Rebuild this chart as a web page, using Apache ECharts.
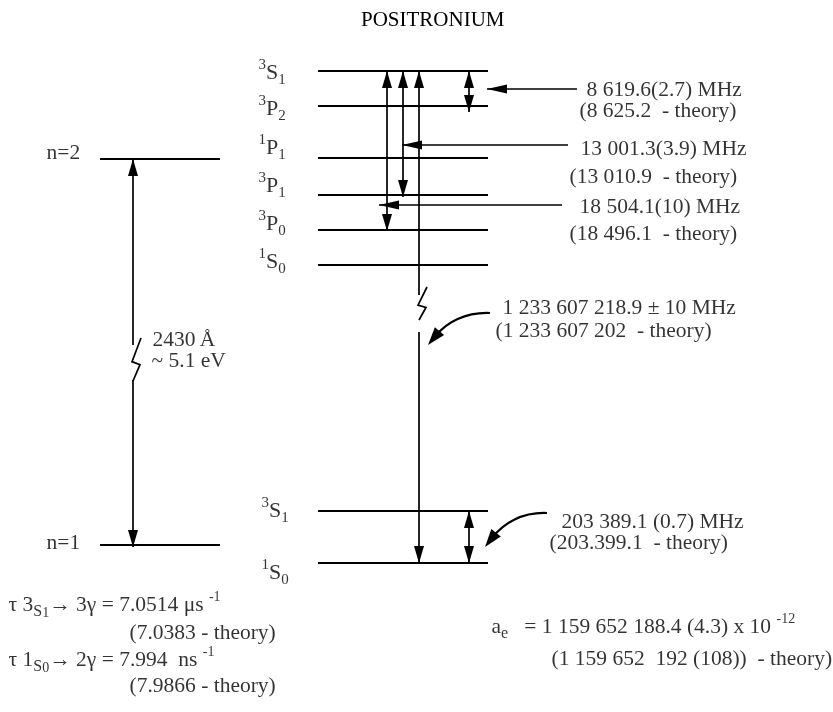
<!DOCTYPE html>
<html>
<head>
<meta charset="utf-8">
<title>Positronium</title>
<script src="https://cdn.jsdelivr.net/npm/echarts@6/dist/echarts.min.js"></script>
<style>
  html, body { margin: 0; padding: 0; background: #fff; }
  #chart { width: 833px; height: 712px; }
</style>
</head>
<body>
<div id="chart"></div>
<script>
// schematic diagram, axis units run 0..833 across and 0..712 top to bottom (not to scale)
const titleText = 'POSITRONIUM'

// principal levels (left)
const nLevelNames = ['n=2', 'n=1']
const nLevelY = [159, 545]

// n=2 fine structure (right, top) and n=1 hyperfine pair (right, bottom)
const upperLevelNames = ['3S1', '3P2', '1P1', '3P1', '3P0', '1S0']
const upperLevelY = [71, 106, 158, 195, 230, 265]
const lowerLevelNames = ['3S1', '1S0']
const lowerLevelY = [511, 563]

// measured intervals and theory
const fsMeasured = ['8 619.6(2.7) MHz', '13 001.3(3.9) MHz', '18 504.1(10) MHz']
const fsTheory = ['(8 625.2  - theory)', '(13 010.9  - theory)', '(18 496.1  - theory)']
const grMeasured = '1 233 607 218.9 \u00b1 10 MHz'
const grTheory = '(1 233 607 202  - theory)'
const hfsMeasured = '203 389.1 (0.7) MHz'
const hfsTheory = '(203.399.1  - theory)'
const lymanText = ['2430\u2009\u00c5', '~ 5.1 eV']
const decayLines = [
  '{t|\u03c4 3}{sub|S}{sub2|1}{t|\u2192 3\u03b3 = 7.0514 \u03bcs }{sup|-1}',
  '(7.0383 - theory)',
  '{t|\u03c4 1}{sub|S}{sub2|0}{t|\u2192 2\u03b3 = 7.994  ns }{sup|-1}',
  '(7.9866 - theory)'
]
const aeLines = [
  '{t|a}{sub|e}{t|   = 1 159 652 188.4 (4.3) x 10 }{sup|-12}',
  '(1 159 652  192 (108))  - theory)'
]

const serif = "'Liberation Serif', 'Times New Roman', serif"
const ink = '#000'
const fs = 21.5

// ---- layout ----
const nSpan = [100, 220]
const fsSpan = [318, 488]
const leftArrowX = 133
const fsArrowX = [469, 403, 387]     // arrows to 3P2, 3P1, 3P0
const fsArrowTip = [112, 197, 231]
const groundX = 419
const hfsX = 469
const pointerY = [89, 145, 205]
const pointerTip = [487, 402, 379]
const pointerTail = [577, 568, 562]

// levels
const levelData = []
nLevelY.forEach(y => levelData.push([nSpan[0], nSpan[1], y]))
upperLevelY.forEach(y => levelData.push([fsSpan[0], fsSpan[1], y]))
lowerLevelY.forEach(y => levelData.push([fsSpan[0], fsSpan[1], y]))

// straight arrow segments: x1, y1, x2, y2, head at start, head at end, head type
const segData = [
  [leftArrowX, nLevelY[0], leftArrowX, 345, 1, 0, 0],
  [leftArrowX, 380, leftArrowX, nLevelY[1] + 2, 0, 1, 0],
  [groundX, upperLevelY[0], groundX, 295, 1, 0, 0],
  [groundX, 332, groundX, lowerLevelY[1], 0, 1, 0],
  [hfsX, lowerLevelY[0], hfsX, lowerLevelY[1], 1, 1, 0]
]
fsArrowX.forEach((x, i) => segData.push([x, upperLevelY[0], x, fsArrowTip[i], 1, 1, 0]))
pointerY.forEach((y, i) => segData.push([pointerTip[i], y, pointerTail[i], y, 1, 0, 1]))

// zigzag breaks: x, top, bottom
const breakData = [[leftArrowX, 338, 381], [groundX, 287, 320]]

// curved pointers: start x, start y, tip x, tip y
const curveData = [[490, 313, 428, 345], [547, 513, 485, 547]]

// texts: x (left edge), y (middle), rich text
const lvl = n => '{lsup|' + n[0] + '}{lvl|' + n[1] + '}{lsub|' + n[2] + '}'
const upperLabelY = [73, 109, 148, 186, 224, 262]
const lowerLabelY = [511, 573]
const textData = []
nLevelNames.forEach((n, i) => textData.push({ value: [46, [153, 543][i]], name: n }))
upperLevelNames.forEach((n, i) => textData.push({ value: [258, upperLabelY[i]], name: lvl(n) }))
lowerLevelNames.forEach((n, i) => textData.push({ value: [261, lowerLabelY[i]], name: lvl(n) }))
textData.push({ value: [152, 340], name: lymanText[0] })
textData.push({ value: [151, 361], name: lymanText[1] })
const fsTextX = [[586, 579], [580, 569], [579, 569]]
const fsTextY = [[90, 111], [149, 177], [207, 234]]
fsMeasured.forEach((t, i) => {
  textData.push({ value: [fsTextX[i][0], fsTextY[i][0]], name: t })
  textData.push({ value: [fsTextX[i][1], fsTextY[i][1]], name: fsTheory[i] })
})
textData.push({ value: [502, 308], name: grMeasured })
textData.push({ value: [495, 331], name: grTheory })
textData.push({ value: [561, 522], name: hfsMeasured })
textData.push({ value: [549, 543], name: hfsTheory })
const decayY = [605, 633, 660, 686]
const decayX = [8, 129, 8, 129]
decayLines.forEach((t, i) => textData.push({ value: [decayX[i], decayY[i]], name: t }))
textData.push({ value: [491, 627], name: aeLines[0] })
textData.push({ value: [551, 659], name: aeLines[1] })

const rich = {
  lvl: { fontFamily: serif, fontSize: 22, lineHeight: 30, verticalAlign: 'middle', color: ink },
  lsup: { fontFamily: serif, fontSize: 15, lineHeight: 15, verticalAlign: 'top', color: ink },
  lsub: { fontFamily: serif, fontSize: 15, lineHeight: 15, verticalAlign: 'bottom', color: ink },
  t: { fontFamily: serif, fontSize: fs, lineHeight: 30, verticalAlign: 'middle', color: ink },
  sup: { fontFamily: serif, fontSize: 14, lineHeight: 13, verticalAlign: 'top', color: ink },
  sub: { fontFamily: serif, fontSize: 16, lineHeight: 22, verticalAlign: 'bottom', color: ink },
  sub2: { fontFamily: serif, fontSize: 14, lineHeight: 15, verticalAlign: 'bottom', color: ink }
}

function head (tip, from, len, width) {
  const dx = tip[0] - from[0]
  const dy = tip[1] - from[1]
  const d = Math.sqrt(dx * dx + dy * dy) || 1
  const ux = dx / d
  const uy = dy / d
  const bx = tip[0] - ux * len
  const by = tip[1] - uy * len
  return {
    type: 'polygon',
    shape: { points: [tip, [bx - uy * width / 2, by + ux * width / 2], [bx + uy * width / 2, by - ux * width / 2]] },
    style: { fill: ink }
  }
}

const chart = echarts.init(document.getElementById('chart'))
chart.setOption({
  animation: false,
  backgroundColor: '#fff',
  title: {
    text: titleText,
    left: 356,
    top: 5,
    textStyle: { fontFamily: serif, fontSize: 21, fontWeight: 'normal', color: ink }
  },
  grid: { left: 0, right: 0, top: 0, bottom: 0 },
  xAxis: { type: 'value', min: 0, max: 833, show: false },
  yAxis: { type: 'value', min: 0, max: 712, inverse: true, show: false },
  series: [
    {
      name: 'levels',
      type: 'custom',
      silent: true,
      data: levelData,
      renderItem: (params, api) => {
        const p1 = api.coord([api.value(0), api.value(2)])
        const p2 = api.coord([api.value(1), api.value(2)])
        return {
          type: 'line',
          shape: { x1: p1[0], y1: p1[1], x2: p2[0], y2: p2[1] },
          style: { stroke: ink, lineWidth: 2 }
        }
      }
    },
    {
      name: 'arrows',
      type: 'custom',
      silent: true,
      data: segData,
      renderItem: (params, api) => {
        const p1 = api.coord([api.value(0), api.value(1)])
        const p2 = api.coord([api.value(2), api.value(3)])
        const pointer = api.value(6) === 1
        const len = pointer ? 20 : 17
        const w = pointer ? 9 : 10
        const children = [{
          type: 'line',
          shape: { x1: p1[0], y1: p1[1], x2: p2[0], y2: p2[1] },
          style: { stroke: ink, lineWidth: pointer ? 1.5 : 1.7 }
        }]
        if (api.value(4)) children.push(head(p1, p2, len, w))
        if (api.value(5)) children.push(head(p2, p1, len, w))
        return { type: 'group', children }
      }
    },
    {
      name: 'breaks',
      type: 'custom',
      silent: true,
      data: breakData,
      renderItem: (params, api) => {
        const top = api.coord([api.value(0), api.value(1)])
        const bot = api.coord([api.value(0), api.value(2)])
        const h = bot[1] - top[1]
        const x = top[0]
        return {
          type: 'polyline',
          shape: { points: [[x + 8, top[1]], [x - 1, top[1] + h * 0.55], [x + 7, top[1] + h * 0.62], [x, bot[1]]] },
          style: { stroke: ink, lineWidth: 1.7, fill: null }
        }
      }
    },
    {
      name: 'curves',
      type: 'custom',
      silent: true,
      data: curveData,
      renderItem: (params, api) => {
        const s = api.coord([api.value(0), api.value(1)])
        const t = api.coord([api.value(2), api.value(3)])
        const dx = s[0] - t[0]
        const dy = t[1] - s[1]
        const c1 = [s[0] - dx * 0.4, s[1] - 1]
        const c2 = [t[0] + dx * 0.3, t[1] - dy * 0.7]
        // stop the stroke at the head base
        const hd = head(t, c2, 18, 12)
        const ux = t[0] - c2[0]
        const uy = t[1] - c2[1]
        const d = Math.sqrt(ux * ux + uy * uy)
        const e = [t[0] - ux / d * 12, t[1] - uy / d * 12]
        return {
          type: 'group',
          children: [
            {
              type: 'bezierCurve',
              shape: { x1: s[0], y1: s[1], cpx1: c1[0], cpy1: c1[1], cpx2: c2[0], cpy2: c2[1], x2: e[0], y2: e[1] },
              style: { stroke: ink, lineWidth: 2.2, fill: null }
            },
            hd
          ]
        }
      }
    },
    {
      name: 'texts',
      type: 'scatter',
      silent: true,
      symbolSize: 1,
      itemStyle: { color: 'rgba(0,0,0,0)' },
      data: textData,
      label: {
        show: true,
        position: 'right',
        distance: 0,
        formatter: p => p.name,
        color: ink,
        fontFamily: serif,
        fontSize: fs,
        rich
      }
    }
  ]
})
</script>
</body>
</html>
